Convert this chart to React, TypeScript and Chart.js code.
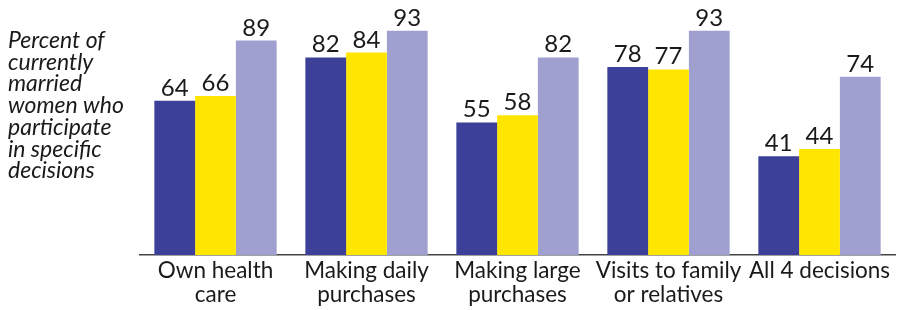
import React, { useEffect, useRef } from "react";
import { Chart, registerables } from "chart.js";

Chart.register(...registerables);

const categories: string[][] = [
  ["Own health", "care"],
  ["Making daily", "purchases"],
  ["Making large", "purchases"],
  ["Visits to family", "or relatives"],
  ["All 4 decisions"],
];
const seriesNames = ["Group 1", "Group 2", "Group 3"];
const series1 = [64, 82, 55, 78, 41];
const series2 = [66, 84, 58, 77, 44];
const series3 = [89, 93, 82, 93, 74];
const sideLabel = [
  "Percent of",
  "currently",
  "married",
  "women who",
  "participate",
  "in specific",
  "decisions",
];
const colors = ["#3d4098", "#ffe600", "#a0a0d0"];

const FONT = "Lato, 'Open Sans', sans-serif";

export default function App() {
  const ref = useRef<HTMLCanvasElement | null>(null);
  useEffect(() => {
    if (!ref.current) return;
    const valueLabels = {
      id: "valueLabels",
      afterDatasetsDraw(chart: any) {
        const ctx = chart.ctx;
        ctx.save();
        ctx.font = `24px ${FONT}`;
        ctx.fillStyle = "#1a1a1a";
        ctx.textAlign = "center";
        ctx.textBaseline = "alphabetic";
        chart.data.datasets.forEach((ds: any, i: number) => {
          const meta = chart.getDatasetMeta(i);
          meta.data.forEach((bar: any, j: number) => {
            ctx.fillText(String(ds.data[j]), bar.x, bar.y - 5);
          });
        });
        ctx.restore();
      },
    };
    const sideText = {
      id: "sideText",
      afterDraw(chart: any) {
        const ctx = chart.ctx;
        ctx.save();
        ctx.font = `italic 23px ${FONT}`;
        ctx.fillStyle = "#1a1a1a";
        ctx.textAlign = "left";
        ctx.textBaseline = "alphabetic";
        sideLabel.forEach((line, i) => {
          ctx.fillText(line, 8, 48 + i * 21.7);
        });
        ctx.restore();
      },
    };
    const chart = new Chart(ref.current, {
      type: "bar",
      data: {
        labels: categories,
        datasets: [series1, series2, series3].map((d, i) => ({
          label: seriesNames[i],
          data: d,
          backgroundColor: colors[i],
          borderWidth: 0,
          categoryPercentage: 0.81,
          barPercentage: 1,
        })),
      },
      options: {
        animation: false,
        responsive: true,
        maintainAspectRatio: false,
        layout: { padding: { left: 140, right: 4, top: 14, bottom: 0 } },
        plugins: { legend: { display: false }, tooltip: { enabled: false } },
        scales: {
          x: {
            grid: { display: false, drawTicks: false },
            border: { display: true, color: "#444", width: 1.5 },
            ticks: {
              color: "#1a1a1a",
              font: { family: FONT, size: 22.5, lineHeight: 1.07 },
              padding: 4,
              maxRotation: 0,
              autoSkip: false,
            },
            afterFit(scale: any) {
              scale.height = 55;
            },
          },
          y: {
            display: false,
            min: 0,
            max: 100,
          },
        },
      },
      plugins: [valueLabels, sideText],
    });
    return () => chart.destroy();
  }, []);
  return (
    <div style={{ position: "absolute", left: 0, top: 0, width: 899, height: 310, background: "#fff" }}>
      <canvas ref={ref} />
    </div>
  );
}
